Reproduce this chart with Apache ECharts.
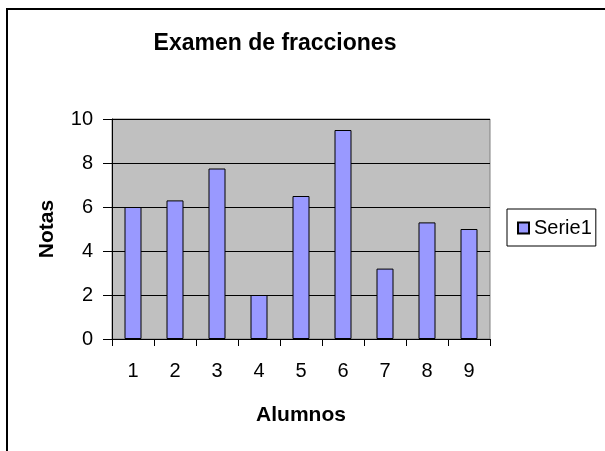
<!DOCTYPE html>
<html>
<head>
<meta charset="utf-8">
<script src="https://cdn.jsdelivr.net/npm/echarts@6/dist/echarts.min.js"></script>
<style>
  html, body { margin: 0; padding: 0; background: #fff; }
  #chart { width: 605px; height: 451px; }
</style>
</head>
<body>
<div id="chart"></div>
<script>
const alumnos = ['1', '2', '3', '4', '5', '6', '7', '8', '9'];
const notas = [6, 6.3, 7.75, 2, 6.5, 9.5, 3.2, 5.3, 5];

const font = 'Arial, "Liberation Sans", sans-serif';

const chart = echarts.init(document.getElementById('chart'));

const option = {
  backgroundColor: '#fff',
  animation: false,
  textStyle: { fontFamily: font, color: '#000' },
  title: {
    text: 'Examen de fracciones',
    left: 270,
    top: 27,
    textAlign: 'center',
    textStyle: { fontFamily: font, fontSize: 23, fontWeight: 'bold', color: '#000' }
  },
  legend: {
    left: 507,
    top: 209,
    orient: 'vertical',
    padding: [9, 4, 8, 10],
    borderColor: '#000',
    borderWidth: 1,
    itemWidth: 11,
    itemHeight: 11,
    itemGap: 6,
    icon: 'rect',
    textStyle: { fontFamily: font, fontSize: 20, color: '#000' },
    data: ['Serie1']
  },
  grid: {
    left: 112,
    right: 115,
    top: 119,
    bottom: 112,
    show: true,
    backgroundColor: '#c0c0c0',
    borderColor: '#808080',
    borderWidth: 1
  },
  xAxis: {
    type: 'category',
    data: alumnos,
    boundaryGap: true,
    name: 'Alumnos',
    nameLocation: 'middle',
    nameGap: 66,
    nameTextStyle: { fontFamily: font, fontSize: 21, fontWeight: 'bold', color: '#000' },
    axisLine: { lineStyle: { color: '#000', width: 1 } },
    axisTick: { show: true, length: 7, inside: false, lineStyle: { color: '#000' } },
    axisLabel: { margin: 22, fontSize: 20, color: '#000', fontFamily: font },
    splitLine: { show: false }
  },
  yAxis: {
    type: 'value',
    min: 0,
    max: 10,
    interval: 2,
    name: 'Notas',
    nameLocation: 'middle',
    nameRotate: 90,
    nameGap: 54,
    nameTextStyle: { fontFamily: font, fontSize: 21, fontWeight: 'bold', color: '#000' },
    axisLine: { show: true, lineStyle: { color: '#000', width: 1 } },
    axisTick: { show: true, length: 9, inside: false, lineStyle: { color: '#000' } },
    axisLabel: { margin: 19, fontSize: 20, color: '#000', fontFamily: font },
    splitLine: { show: true, lineStyle: { color: '#000', width: 1 } }
  },
  graphic: [
    {
      type: 'rect',
      shape: { x: 7, y: 9, width: 700, height: 600 },
      style: { fill: 'none', stroke: '#000', lineWidth: 2 },
      silent: true,
      z: 100
    }
  ],
  series: [
    {
      name: 'Serie1',
      type: 'bar',
      data: notas,
      barWidth: 17,
      itemStyle: { color: '#9999ff', borderColor: '#000', borderWidth: 1 }
    }
  ]
};

chart.setOption(option);
</script>
</body>
</html>
